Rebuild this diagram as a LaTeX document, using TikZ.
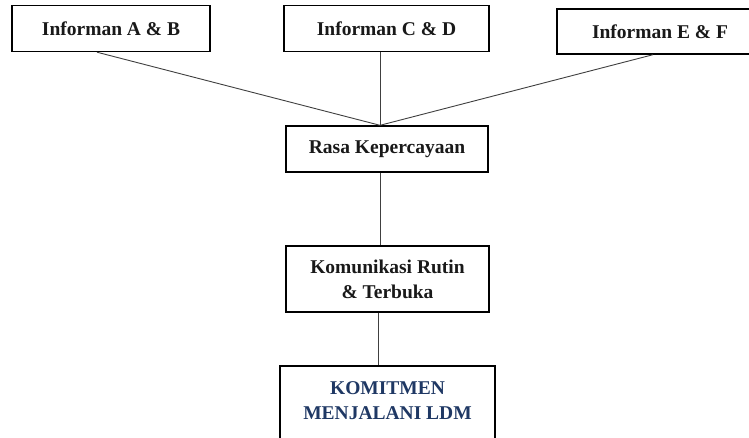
\documentclass[tikz,border=0pt]{standalone}
\usepackage{fontspec}
\setmainfont{Liberation Serif}
\usetikzlibrary{calc}
\definecolor{navy}{HTML}{1F3864}
\tikzset{
  boxtext/.style={inner sep=0pt, align=center, font=\fontsize{19.5}{25}\selectfont\bfseries},
  box/.style={boxtext, draw=black, line width=1.4pt, fill=white, text=black!90},
  conn/.style={draw=black!75, line width=0.9pt},
}
\begin{document}
\begin{tikzpicture}[x=1pt, y=-1pt]
\useasboundingbox (0,0) rectangle (749,437);
\clip (0,0) rectangle (749,437);
\fill[white] (0,0) rectangle (749,437);
\node[box, minimum width=198pt, minimum height=46pt] (A) at (111,28.5) {Informan A \& B};
\node[box, minimum width=205pt, minimum height=46pt] (C) at (386.5,28.5) {Informan C \& D};
\node[box, minimum width=206pt, minimum height=45pt] (E) at (660,31.5) {Informan E \& F};
\node[box, minimum width=202pt, minimum height=46pt] (R) at (387,149) {Rasa Kepercayaan};
\node[box, minimum width=203pt, minimum height=66pt] (K) at (387.5,279) {Komunikasi Rutin\\\& Terbuka};
\node[box, line width=2.2pt, minimum width=215pt, minimum height=100pt, anchor=north] (T) at (387.5,365) {};
\node[boxtext, text=navy] (Tt) at (387.5,401) {KOMITMEN\\MENJALANI LDM};
\coordinate (m) at ([xshift=-7pt]R.north);
\draw[conn] ([xshift=-14pt]A.south) -- (m);
\draw[conn] ([xshift=-6.5pt]C.south) -- (m);
\draw[conn] ([xshift=-7pt]E.south) -- (m);
\draw[conn] ([xshift=-7pt]R.south) -- ([xshift=-7.5pt]K.north);
\draw[conn] ([xshift=-9.5pt]K.south) -- ([xshift=-9.5pt]T.north);
\end{tikzpicture}
\end{document}
